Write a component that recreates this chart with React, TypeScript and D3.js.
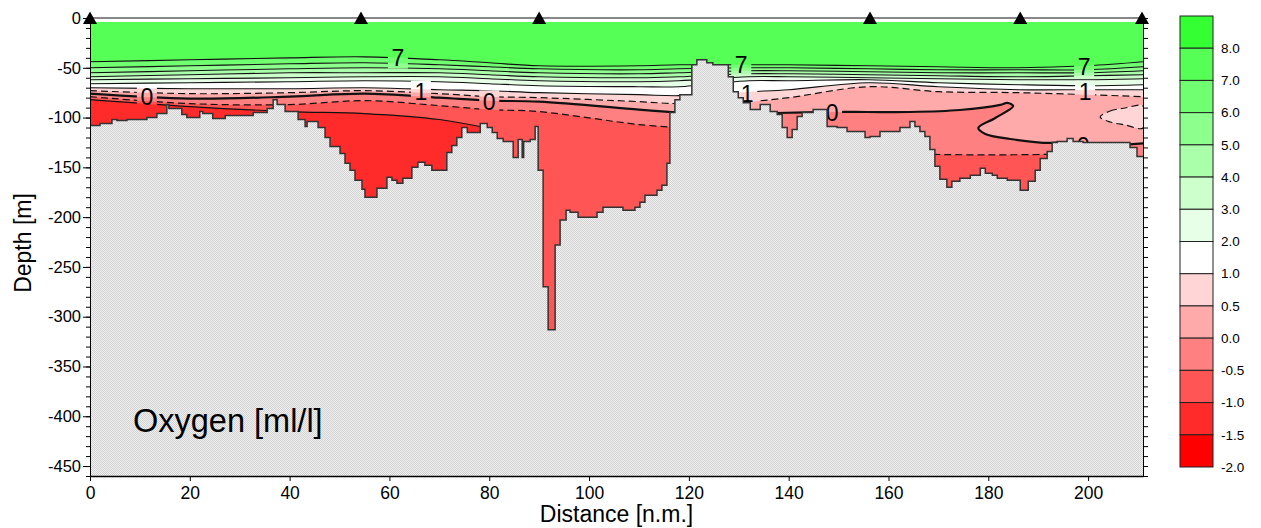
import React, { useRef, useEffect } from 'react';
import * as d3 from 'd3';

const FONT = 'Arial, "Liberation Sans", sans-serif';

// station positions (n.m.)
const stations = [0, 54.3, 90, 156.3, 186.4, 210.8];

// seafloor profile [distance n.m., depth m], drawn as steps
const seafloor: [number, number][] = [
  [0, 108], [2.0, 106], [4.4, 102], [5.4, 103], [7.4, 102], [11.4, 100], [13.4, 96], [15.4, 87], [15.8, 91],
  [18.4, 97], [19.4, 100], [22.0, 94], [22.6, 96], [24.6, 101], [27.1, 98], [32.7, 95], [35.5, 91], [36.7, 82],
  [37.5, 87], [39.1, 94], [41.7, 102], [43.1, 109], [43.5, 104], [45.7, 110], [47.1, 120], [48.1, 129], [50.1, 136],
  [51.1, 146], [52.1, 153], [53.1, 163], [54.5, 172], [55.1, 180], [57.5, 171], [59.5, 160], [60.5, 163], [61.5, 166],
  [62.7, 161], [64.5, 150], [65.7, 145], [67.1, 148], [68.5, 153], [71.5, 135], [72.5, 128], [73.5, 120], [74.5, 110],
  [75.6, 115], [78.2, 106], [79.6, 110], [80.6, 115], [81.6, 121], [82.8, 124], [84.8, 140], [85.8, 122], [86.6, 140],
  [86.9, 124], [88.2, 122], [89.2, 109], [89.8, 153], [90.8, 270], [91.8, 313], [93.2, 228], [94.2, 203], [95.4, 193],
  [96.2, 195], [97.8, 200], [101.6, 195], [102.8, 190], [106.8, 193], [109.2, 190], [110.2, 185], [111.2, 178],
  [113.6, 173], [114.6, 168], [115.6, 146], [116.2, 95], [117.2, 82], [118.2, 77], [120.6, 47], [121.6, 42],
  [123.6, 45], [124.8, 47], [127.9, 59], [128.9, 74], [129.9, 80], [130.9, 85], [132.3, 92], [134.3, 87], [136.3, 94],
  [137.7, 97], [138.7, 110], [139.7, 120], [140.7, 112], [141.7, 99], [142.7, 95], [144.9, 92], [147.7, 109],
  [149.7, 110], [151.7, 114], [155.3, 120], [156.3, 119], [158.3, 114], [162.3, 110], [164.3, 104], [165.3, 109],
  [166.3, 114], [167.3, 119], [168.3, 132], [169.3, 149], [170.3, 162], [171.7, 170], [172.7, 164], [174.3, 161],
  [176.4, 158], [178.4, 151], [179.4, 156], [180.8, 158], [181.8, 161], [183.8, 163], [186.4, 173], [188.0, 164],
  [189.4, 153], [190.4, 141], [191.8, 134], [192.8, 125], [193.8, 124], [195.8, 121], [197.0, 124], [199.0, 125],
  [208.4, 130], [209.8, 139], [211, 139],
];

// isoline depths (m) along the section
const isoDist = [0, 20, 40, 55, 70, 80, 90, 110, 118, 132, 140, 156, 170, 186, 200, 211];
const iso7 = [44, 42, 40, 39, 42, 45, 48, 48, 47, 47, 47, 48, 49, 50, 48, 44];
const iso6 = [50, 48, 46, 45, 47, 49, 51, 52, 51, 50, 50, 51, 52, 52, 52, 49];
const iso5 = [55, 53, 51, 50, 51, 53, 55, 56, 55, 53, 53, 54, 55, 55, 55, 53];
const iso4 = [59, 57, 55, 55, 55, 57, 59, 60, 59, 56, 56, 57, 58, 59, 58, 57];
const iso3 = [62, 61, 60, 59, 59, 61, 63, 64, 63, 59, 59, 60, 61, 62, 62, 61];
const iso2 = [66, 65, 64, 63, 64, 66, 68, 69, 69, 63, 63, 62, 65, 67, 68, 67];
const iso1 = [70, 71, 71, 70, 72, 73, 75, 77, 78, 74, 72, 65, 69, 72, 72, 72];
const isoHalf = [73, 76, 75, 73, 76, 79, 80, 84, 86, 84, 80, 69, 74, 75, 77, 79];

const zeroLeft: [number, number][] = [[0, 76], [20, 81], [40, 79], [55, 76], [70, 80], [80, 83], [90, 84], [110, 92], [118, 95]];
const zeroRight: [number, number][] = [
  [137.3, 95.4], [148.7, 94.4], [155.7, 94.4], [164.3, 94.4], [174.3, 92.4], [182.4, 87.3], [183.8, 85.3],
  [185.0, 88.4], [181.4, 100.4], [178.0, 110.4], [179.4, 116.5], [184.4, 121.5], [192.4, 125.5], [198.0, 123.5],
];
const zeroEdge: [number, number][] = [[208.2, 127], [211, 126]];
const minusHalfLeft: [number, number][] = [[0, 79], [20, 86], [40, 87], [55, 83], [70, 88], [80, 92], [90, 94], [110, 107], [118, 110]];
const minusHalfRight: [number, number][] = [[169.0, 137], [180, 137.5], [192.2, 137]];
const minusOneLeft: [number, number][] = [[0, 82], [20, 89], [40, 94], [55, 96], [70, 102], [80, 111]];
// closed 0.5 contour near the east end
const halfLens: [number, number][] = [[202.4, 99.4], [204.4, 93.4], [207.4, 90.4], [211, 88.4], [211, 110.4], [207.4, 107.4], [204.4, 104.4]];

// legend classes (lower bound of each box) and colours
const legendLevels = [8, 7, 6, 5, 4, 3, 2, 1, 0.5, 0, -0.5, -1, -1.5, -2];
const legendColors = ['#33ff33', '#55ff55', '#70ff70', '#8cff8c', '#aaffaa', '#ccffcc', '#e6ffe6', '#ffffff',
  '#ffd5d5', '#ffaaaa', '#ff8080', '#ff5555', '#ff2b2b', '#ff0000'];

// contour labels
const labelText = ['7', '7', '7', '1', '1', '1', '0', '0', '0', '0'];
const labelDist = [61.7, 130.5, 199.2, 66.3, 131.7, 199.4, 11.4, 80.0, 148.7, 199.0];
const labelDepth = [39.7, 47, 48.7, 74, 76, 74, 78.8, 83.8, 95.4, 128];

const maxDist = 211;
const maxDepth = 460;
const surfaceDepth = 4;

const App = () => {
  const leftRef = useRef<SVGGElement>(null);
  const rightRef = useRef<SVGGElement>(null);
  const bottomRef = useRef<SVGGElement>(null);

  const x = d3.scaleLinear().domain([0, maxDist]).range([90, 1143]);
  const y = d3.scaleLinear().domain([0, maxDepth]).range([18, 476]);

  useEffect(() => {
    const left = d3.select(leftRef.current);
    left.selectAll('*').remove();
    left.append('g')
      .call(d3.axisLeft(y).tickValues(d3.range(0, maxDepth + 1, 10)).tickSize(4).tickSizeOuter(0).tickFormat(() => ''));
    left.append('g')
      .call(d3.axisLeft(y).tickValues(d3.range(0, 451, 50)).tickSize(7).tickSizeOuter(0).tickPadding(2)
        .tickFormat((d: any) => (d === 0 ? '0' : `-${d}`)))
      .attr('font-size', 16.5).attr('font-family', FONT);

    const right = d3.select(rightRef.current);
    right.selectAll('*').remove();
    right.append('g')
      .call(d3.axisRight(y).tickValues(d3.range(0, maxDepth + 1, 10)).tickSize(5).tickSizeOuter(0).tickFormat(() => ''));

    const bottom = d3.select(bottomRef.current);
    bottom.selectAll('*').remove();
    bottom.append('g')
      .call(d3.axisBottom(x).tickValues(d3.range(0, 201, 20)).tickSize(5).tickSizeOuter(0).tickPadding(6))
      .attr('font-size', 17.5).attr('font-family', FONT);
    bottom.select('.domain').attr('stroke-width', 1.5);
  }, []);

  const line = d3.line<[number, number]>().x(d => x(d[0])).y(d => y(d[1])).curve(d3.curveCatmullRom.alpha(0.5));
  const closedLine = d3.line<[number, number]>().x(d => x(d[0])).y(d => y(d[1])).curve(d3.curveCatmullRomClosed.alpha(0.5));
  const below = (pts: [number, number][]) => {
    const a = pts[0], b = pts[pts.length - 1];
    return `${line(pts)}L${x(b[0])},${y(maxDepth)}L${x(a[0])},${y(maxDepth)}Z`;
  };
  const toPts = (depths: number[]) => isoDist.map((d, i) => [d, depths[i]] as [number, number]);

  const contours = [
    { level: 7, pts: toPts(iso7) },
    { level: 6, pts: toPts(iso6) },
    { level: 5, pts: toPts(iso5) },
    { level: 4, pts: toPts(iso4) },
    { level: 3, pts: toPts(iso3) },
    { level: 2, pts: toPts(iso2) },
    { level: 1, pts: toPts(iso1) },
    { level: 0.5, pts: toPts(isoHalf) },
    { level: 0, pts: zeroLeft },
    { level: 0, pts: zeroRight },
    { level: 0, pts: zeroEdge },
    { level: -0.5, pts: minusHalfLeft },
    { level: -0.5, pts: minusHalfRight },
    { level: -1, pts: minusOneLeft },
  ];
  const bandBelow = (level: number) => legendColors[legendLevels.indexOf(level) + 1];

  const water = d3.area<[number, number]>().curve(d3.curveStepAfter)
    .x(d => x(d[0])).y0(y(surfaceDepth)).y1(d => y(d[1]));
  const ground = d3.area<[number, number]>().curve(d3.curveStepAfter)
    .x(d => x(d[0])).y0(d => y(d[1])).y1(y(maxDepth));
  const floorLine = d3.line<[number, number]>().curve(d3.curveStepAfter).x(d => x(d[0])).y(d => y(d[1]));

  // station marker: triangle, base on the frame line
  const tri = 'M-7,6L7,6L0,-6.5Z';

  const boxH = 451 / legendLevels.length;
  const barTop = 16;

  return (
    <svg width={1261} height={528} style={{ position: 'absolute', left: 0, top: 0, background: '#fff' }}>
      <defs>
        <clipPath id="water"><path d={water(seafloor) || ''} /></clipPath>
        <pattern id="ground" width={2} height={2} patternUnits="userSpaceOnUse">
          <rect width={2} height={2} fill="#f0f0f0" />
          <rect width={1} height={1} fill="#d2d2d2" />
          <rect x={1} y={1} width={1} height={1} fill="#d2d2d2" />
        </pattern>
        <mask id="gaps" maskUnits="userSpaceOnUse" x={0} y={0} width={1261} height={528}>
          <rect width={1261} height={528} fill="#fff" />
          {labelText.map((t, i) => (
            <rect key={i} x={x(labelDist[i]) - 10} y={y(labelDepth[i]) - 11} width={20} height={22} fill="#000" />
          ))}
        </mask>
      </defs>

      {/* water column fill */}
      <path d={water(seafloor) || ''} fill={legendColors[1]} />
      <g clipPath="url(#water)">
        {contours.map((c, i) => (
          <path key={i} d={below(c.pts)} fill={bandBelow(c.level)} />
        ))}
        <path d={closedLine(halfLens) || ''} fill={legendColors[8]} />
      </g>
      <g clipPath="url(#water)">
        <g mask="url(#gaps)" fill="none">
          {contours.map((c, i) => (
            <path key={i} d={line(c.pts) || ''} stroke="#111"
              strokeWidth={c.level === 0 ? 2.2 : c.level === 0.5 || c.level === -0.5 ? 1.2 : 1.1}
              strokeDasharray={c.level === 0.5 || c.level === -0.5 ? '7,4' : undefined} />
          ))}
          <path d={closedLine(halfLens) || ''} stroke="#111" strokeWidth={1.2} strokeDasharray="7,4" />
        </g>
      </g>
      <g fontFamily={FONT} fontSize={23} textAnchor="middle">
        {labelText.map((t, i) => (
          <text key={i} x={x(labelDist[i])} y={y(labelDepth[i])} dy="0.36em">{t}</text>
        ))}
      </g>

      {/* seafloor */}
      <path d={ground(seafloor) || ''} fill="url(#ground)" />
      <path d={floorLine(seafloor) || ''} fill="none" stroke="#333" strokeWidth={1.5} />

      {/* frame */}
      <line x1={x(0)} x2={x(maxDist)} y1={y(0)} y2={y(0)} stroke="#888" strokeWidth={2} />
      <g ref={leftRef} transform={`translate(${x(0)},0)`} />
      <g ref={rightRef} transform={`translate(${x(maxDist)},0)`} />
      <g ref={bottomRef} transform={`translate(0,${y(maxDepth)})`} />

      {stations.map((s, i) => (
        <path key={i} d={tri} transform={`translate(${x(s)},18)`} fill="#000" />
      ))}

      <text x={133} y={432} fontFamily={FONT} fontSize={32.5}>Oxygen [ml/l]</text>
      <text x={(x(0) + x(maxDist)) / 2} y={522} fontFamily={FONT} fontSize={23} textAnchor="middle">Distance [n.m.]</text>
      <text transform="translate(31,243) rotate(-90)" fontFamily={FONT} fontSize={23} textAnchor="middle">Depth [m]</text>

      {/* colour bar */}
      <g>
        {legendLevels.map((lv, i) => (
          <rect key={i} x={1180} y={barTop + i * boxH} width={33} height={boxH} fill={legendColors[i]} stroke="#222" strokeWidth={1} />
        ))}
        {legendLevels.map((lv, i) => (
          <text key={i} x={1221} y={barTop + (i + 1) * boxH} dy="0.35em" fontFamily={FONT} fontSize={13.5}>
            {lv.toFixed(1)}
          </text>
        ))}
      </g>
    </svg>
  );
};

export default App;
